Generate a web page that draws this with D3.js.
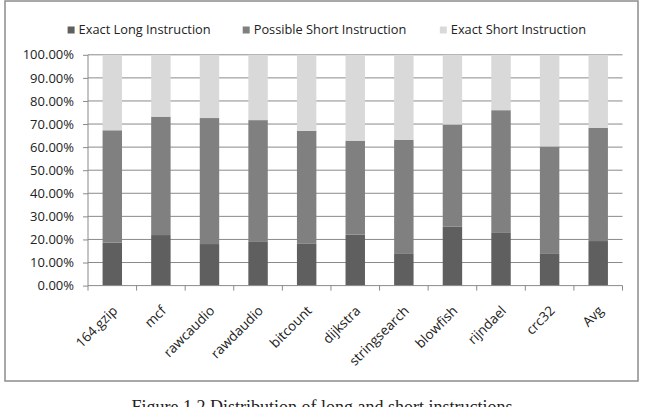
<!DOCTYPE html>
<html>
<head>
<meta charset="utf-8">
<script src="https://cdn.jsdelivr.net/npm/d3@7"></script>
<style>
  body { margin: 0; background: #fff; }
  svg text { font-family: "Open Sans", sans-serif; fill: #222; }
</style>
</head>
<body>
<div id="main"></div>
<script>
// benchmark names
const categories = ["164.gzip", "mcf", "rawcaudio", "rawdaudio", "bitcount", "dijkstra",
    "stringsearch", "blowfish", "rijndael", "crc32", "Avg"];
const seriesNames = ["Exact Long Instruction", "Possible Short Instruction", "Exact Short Instruction"];
// percentages
const exactLong = [18.6, 21.9, 18.0, 19.2, 18.3, 22.1, 14.0, 25.5, 23.1, 14.0, 19.3];
const possibleShort = [48.7, 51.3, 54.6, 52.5, 48.8, 40.7, 49.2, 44.3, 52.9, 46.3, 49.1];
const exactShort = categories.map((c, i) => 100 - exactLong[i] - possibleShort[i]);
const yTicks = [0, 10, 20, 30, 40, 50, 60, 70, 80, 90, 100];
const caption = "Figure 1.2 Distribution of long and short instructions";

const width = 647, height = 407;
const colors = ["#5f5f5f", "#808080", "#d9d9d9"];
const plot = {left: 88, right: 622.5, top: 54.8, bottom: 285.6};

const svg = d3.select("#main").append("svg")
    .attr("width", width).attr("height", height);

// outer frame
svg.append("rect")
    .attr("x", 5).attr("y", 1).attr("width", 633).attr("height", 380)
    .attr("fill", "none").attr("stroke", "#8c8c8c").attr("stroke-width", 1.5);

const x = d3.scaleBand().domain(categories).range([plot.left, plot.right]).paddingInner(0.6).paddingOuter(0.3);
const y = d3.scaleLinear().domain([0, 100]).range([plot.bottom, plot.top]);

// grid
svg.append("g").selectAll("line").data(yTicks.slice(1)).enter().append("line")
    .attr("x1", plot.left).attr("x2", plot.right)
    .attr("y1", d => y(d)).attr("y2", d => y(d))
    .attr("stroke", "#8a8a8a").attr("stroke-width", 1);

// stacked bars
const table = categories.map((c, i) => ({cat: c, s0: exactLong[i], s1: possibleShort[i], s2: exactShort[i]}));
const stack = d3.stack().keys(["s0", "s1", "s2"])(table);

svg.append("g").selectAll("g").data(stack).enter().append("g")
    .attr("fill", (d, i) => colors[i])
    .selectAll("rect").data(d => d).enter().append("rect")
    .attr("x", d => x(d.data.cat))
    .attr("width", x.bandwidth())
    .attr("y", d => y(d[1]))
    .attr("height", d => y(d[0]) - y(d[1]));

// y axis
const yAxis = d3.axisLeft(y).tickValues(yTicks).tickSize(5).tickFormat(d => d.toFixed(2) + "%");
const gy = svg.append("g").attr("transform", "translate(" + plot.left + ",0)").call(yAxis);
gy.select(".domain").attr("stroke", "#8a8a8a").attr("d", "M0," + plot.top + "V" + plot.bottom);
gy.selectAll(".tick line").attr("stroke", "#8a8a8a");
gy.selectAll(".tick text").attr("x", -14).attr("font-size", 13).attr("font-family", "Open Sans").attr("fill", "#222");

// x axis: ticks at band edges
const edges = d3.range(categories.length + 1).map(i => plot.left + i * (plot.right - plot.left) / categories.length);
const gx = svg.append("g");
gx.append("line").attr("x1", plot.left).attr("x2", plot.right)
    .attr("y1", plot.bottom).attr("y2", plot.bottom).attr("stroke", "#8a8a8a");
gx.selectAll("line.tk").data(edges).enter().append("line").attr("class", "tk")
    .attr("x1", d => d).attr("x2", d => d)
    .attr("y1", plot.bottom).attr("y2", plot.bottom + 5).attr("stroke", "#8a8a8a");
gx.selectAll("text").data(categories).enter().append("text")
    .attr("transform", d => "translate(" + (x(d) + x.bandwidth() / 2 + 6) + "," + (plot.bottom + 26) + ") rotate(-45)")
    .attr("text-anchor", "end")
    .attr("font-size", 13.5)
    .text(d => d);

// legend
const legendX = [67.6, 242.7, 439.8];
const lg = svg.append("g").selectAll("g").data(seriesNames).enter().append("g")
    .attr("transform", (d, i) => "translate(" + legendX[i] + ",30)");
lg.append("rect").attr("x", 0).attr("y", -3.5).attr("width", 7).attr("height", 7)
    .attr("fill", (d, i) => colors[i]);
lg.append("text").attr("x", 11).attr("dy", "0.35em").attr("font-size", 12.8).text(d => d);

// caption
svg.append("text")
    .attr("x", 322).attr("y", 413)
    .attr("text-anchor", "middle")
    .style("font-family", "'Liberation Serif', 'Times New Roman', serif")
    .attr("font-size", 18)
    .text(caption);
</script>
</body>
</html>
